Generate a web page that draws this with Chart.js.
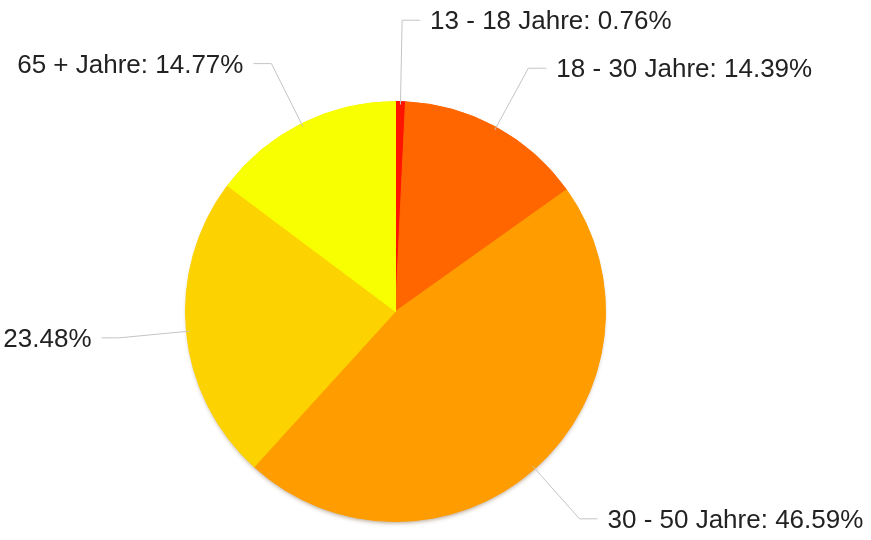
<!DOCTYPE html>
<html>
<head>
<meta charset="utf-8">
<script src="https://cdn.jsdelivr.net/npm/chart.js@4/dist/chart.umd.min.js"></script>
<style>
  html, body { margin: 0; padding: 0; background: #ffffff; }
  canvas { display: block; }
</style>
</head>
<body>
<canvas id="c" width="871" height="540"></canvas>
<script>
const categories = ['13 - 18 Jahre', '18 - 30 Jahre', '30 - 50 Jahre', '50 - 65 Jahre', '65 + Jahre'];
const shares = [0.76, 14.39, 46.59, 23.48, 14.77];
const sliceColors = ['#ff1400', '#ff6600', '#ff9c00', '#fcd200', '#f7ff00'];

const shadowPlugin = {
  id: 'pieShadow',
  beforeDatasetsDraw(chart) {
    const arc = chart.getDatasetMeta(0).data[0];
    if (!arc) return;
    const ctx = chart.ctx;
    ctx.save();
    ctx.shadowColor = 'rgba(90,50,0,0.45)';
    ctx.shadowBlur = 4;
    ctx.shadowOffsetY = 3;
    ctx.beginPath();
    ctx.arc(arc.x, arc.y, arc.outerRadius - 1.5, 0, Math.PI * 2);
    ctx.fillStyle = '#e08a00';
    ctx.fill();
    ctx.restore();
  }
};

const labelPlugin = {
  id: 'leaderLabels',
  afterDatasetsDraw(chart) {
    const meta = chart.getDatasetMeta(0);
    const ctx = chart.ctx;
    const W = chart.width;
    const items = meta.data.map((arc, i) => {
      const mid = (arc.startAngle + arc.endAngle) / 2;
      const r = arc.outerRadius;
      const cos = Math.cos(mid), sin = Math.sin(mid);
      const right = cos >= 0;
      return {
        i, right,
        sx: arc.x + cos * (r - 3), sy: arc.y + sin * (r - 3),
        ex: arc.x + cos * r * 1.32, ey: arc.y + sin * r * 1.32
      };
    });
    const gap = 48;
    [true, false].forEach(side => {
      const list = items.filter(it => it.right === side).sort((a, b) => b.ey - a.ey);
      for (let k = 1; k < list.length; k++) {
        if (list[k - 1].ey - list[k].ey < gap) list[k].ey = list[k - 1].ey - gap;
      }
    });
    ctx.save();
    ctx.font = '26px "Liberation Sans", Arial, sans-serif';
    ctx.textBaseline = 'middle';
    items.forEach(it => {
      const dir = it.right ? 1 : -1;
      const hx = it.ex + dir * 18;
      ctx.beginPath();
      ctx.moveTo(it.sx, it.sy);
      ctx.lineTo(it.ex, it.ey);
      ctx.lineTo(hx, it.ey);
      ctx.strokeStyle = '#c4c4c4';
      ctx.lineWidth = 1;
      ctx.stroke();
      const tx = hx + dir * 10;
      const value = shares[it.i].toFixed(2) + '%';
      let text = categories[it.i] + ': ' + value;
      const w = ctx.measureText(text).width;
      if ((it.right && tx + w > W) || (!it.right && tx - w < 0)) text = value;
      ctx.fillStyle = '#222222';
      ctx.textAlign = it.right ? 'left' : 'right';
      ctx.fillText(text, tx, it.ey + 2);
    });
    ctx.restore();
  }
};

new Chart(document.getElementById('c'), {
  type: 'pie',
  data: {
    labels: categories,
    datasets: [{
      data: shares,
      backgroundColor: sliceColors,
      borderColor: sliceColors,
      borderWidth: 1
    }]
  },
  options: {
    responsive: false,
    animation: false,
    layout: { padding: { top: 101, bottom: 18, left: 185, right: 265 } },
    plugins: { legend: { display: false }, tooltip: { enabled: false } }
  },
  plugins: [shadowPlugin, labelPlugin]
});
</script>
</body>
</html>
